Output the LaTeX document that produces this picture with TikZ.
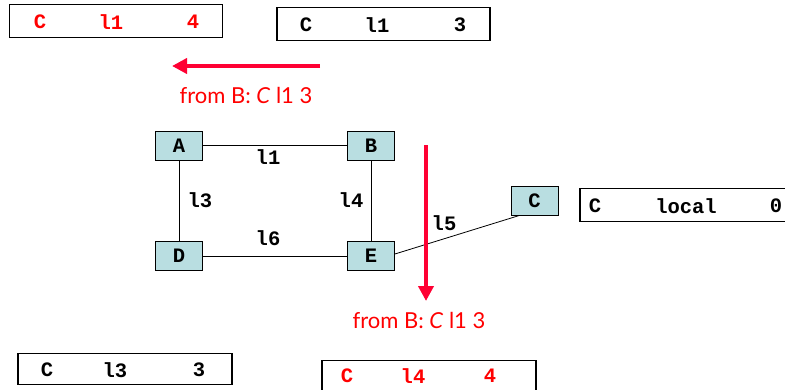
\documentclass[tikz,border=0pt]{standalone}
\usepackage{fontspec}
\setmonofont{Liberation Mono}
\newfontfamily\notefont{Lato}
\usetikzlibrary{arrows.meta}
\definecolor{routerfill}{RGB}{185,222,225}
\definecolor{alertred}{RGB}{255,0,51}
\begin{document}
\begin{tikzpicture}[x=1pt,y=-1pt,
  monotext/.style={font=\ttfamily\bfseries\fontsize{20.5}{20.5}\selectfont},
  router/.style={monotext,draw=black,line width=0.8pt,fill=routerfill,minimum width=47pt,minimum height=29pt,inner sep=0pt},
  tablebox/.style={draw=black,line width=1.6pt,minimum width=213pt,minimum height=33pt,inner sep=0pt},
  entry/.style={monotext,inner sep=0pt},
  rentry/.style={entry,text=red},
  link/.style={draw=black,line width=0.8pt},
  linklabel/.style={monotext,inner sep=0pt},
  note/.style={font=\notefont\fontsize{22}{22}\selectfont,text=red,inner sep=0pt},
  msgarrow/.style={draw=alertred,line width=4.5pt,-{Triangle[length=15pt,width=15pt]}}]
\useasboundingbox (0,0) rectangle (785,389);

% routing tables
\node[tablebox] (t1) at (116,21) {};
\node[rentry] (t1a) at (40,22) {C};
\node[rentry] (t1b) at (111,22) {l1};
\node[rentry] (t1c) at (193,22) {4};

\node[tablebox] (t2) at (383.5,24) {};
\node[entry] (t2a) at (306,25) {C};
\node[entry] (t2b) at (377,25) {l1};
\node[entry] (t2c) at (460,25) {3};

\node[tablebox,minimum width=220pt] (t3) at (690,205) {};
\node[entry] (t3a) at (595,206) {C};
\node[entry] (t3b) at (686,206) {local};
\node[entry] (t3c) at (776,206) {0};

\node[tablebox,minimum width=214pt,minimum height=31pt] (t4) at (125,369) {};
\node[entry] (t4a) at (47,370) {C};
\node[entry] (t4b) at (115,370) {l3};
\node[entry] (t4c) at (199,370) {3};

\node[tablebox,minimum width=214pt] (t5) at (429,377) {};
\node[rentry] (t5a) at (347,376) {C};
\node[rentry] (t5b) at (413,376) {l4};
\node[rentry] (t5c) at (490,376) {4};

% routers
\node[router] (A) at (179,145.5) {A};
\node[router] (B) at (371,145.5) {B};
\node[router] (D) at (179,256) {D};
\node[router] (E) at (371,256) {E};
\node[router] (C) at (534.5,200.5) {C};

% links
\draw[link] (A) -- (B);
\draw[link] (A) -- (D);
\draw[link] (B) -- (E);
\draw[link] (D) -- (E);
\draw[link] ([yshift=2pt]E.east) -- ([xshift=9pt]C.south west);
\node[linklabel] (l1) at (268,157) {l1};
\node[linklabel] (l3) at (200,200) {l3};
\node[linklabel] (l4) at (351,200) {l4};
\node[linklabel] (l6) at (268,238) {l6};
\node[linklabel] (l5) at (444,223) {l5};

% advertised routes
\coordinate (m1s) at (320,66);
\coordinate (m1e) at (172,66);
\draw[msgarrow] (m1s) -- (m1e);
\node[note] (n1) at (246,95) {from B: \textit{C} l1 3};

\coordinate (m2s) at (426,145);
\coordinate (m2e) at (426,301);
\draw[msgarrow] (m2s) -- (m2e);
\node[note] (n2) at (419,320) {from B: \textit{C} l1 3};
\end{tikzpicture}
\end{document}
